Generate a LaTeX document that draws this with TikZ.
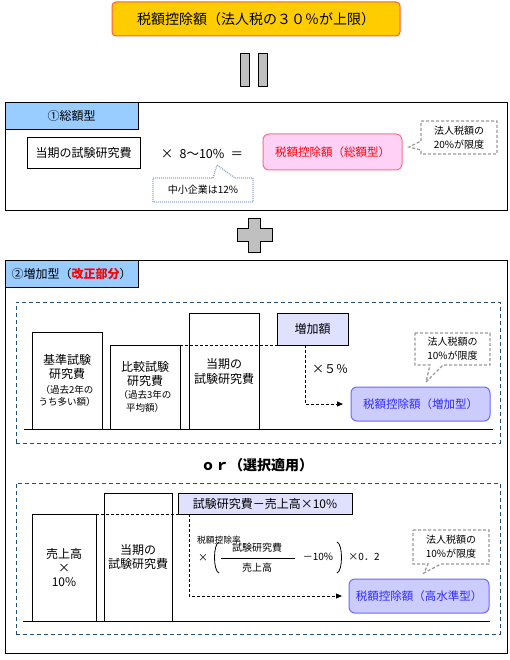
\documentclass[tikz,border=0pt]{standalone}
\usepackage{fontspec}
\setmainfont{Noto Sans CJK JP}
\usetikzlibrary{arrows.meta,calc}
\definecolor{gold}{HTML}{FFCC00}
\definecolor{goldline}{HTML}{FF5A3C}
\definecolor{hdrblue}{HTML}{99CCFF}
\definecolor{pinkfill}{HTML}{FFD1F6}
\definecolor{pinkline}{HTML}{FF6E82}
\definecolor{bluefill}{HTML}{CCCCFF}
\definecolor{blueline}{HTML}{6B6BFF}
\definecolor{bluetext}{HTML}{2B2BFF}
\definecolor{lavender}{HTML}{E0E0FF}
\definecolor{navy}{HTML}{1F4E79}
\definecolor{calloutgray}{HTML}{9A9A9A}
\definecolor{dotblue}{HTML}{8FAACB}
\definecolor{symgray}{HTML}{C0C0C0}
\newcommand{\smallfnt}{\fontsize{9.5}{12}\selectfont}
\begin{document}
\begin{tikzpicture}[x=1pt,y=-1pt,
  every node/.style={font=\fontsize{12}{14}\selectfont, inner sep=0pt, outer sep=0pt},
  box/.style={draw, line width=0.8pt, rectangle, align=center},
  sym/.style={fill=symgray, draw=black, line width=0.8pt},
  navybox/.style={draw=navy, dash pattern=on 4pt off 3pt, line width=0.9pt, rectangle},
  dline/.style={draw=black, dash pattern=on 3pt off 2pt, line width=0.8pt},
  gcall/.style={draw=calloutgray, dash pattern=on 3pt off 2pt, line width=1.3pt, fill=white},
  dcall/.style={draw=dotblue, dash pattern=on 1pt off 1pt, line width=1.3pt, fill=white},
  ctext/.style={align=center, font=\fontsize{10}{14}\selectfont},
  resbox/.style={box, draw=blueline, fill=bluefill, rounded corners=6pt, line width=1pt, text=bluetext, font=\fontsize{11.5}{14}\selectfont},
  tip/.style={-{Triangle[length=6pt,width=5pt]}}
]
\useasboundingbox (0,0) rectangle (510,660);
\fill[white] (0,0) rectangle (510,660);

% title
\node[box, draw=goldline, fill=gold, rounded corners=4pt, line width=1pt, minimum width=288pt, minimum height=34pt, font=\fontsize{14}{16}\selectfont] (title) at (256,19) {税額控除額（法人税の３０％が上限）};

% equals
\draw[sym] (240,53) rectangle (249,86);
\draw[sym] (258,53) rectangle (267,86);

% section 1
\node[box, minimum width=502pt, minimum height=108pt] (sec1) at (256,156) {};
\node[box, fill=hdrblue, minimum width=133pt, minimum height=27pt] (hdr1) at (71.5,115.5) {①総額型};
\node[box, minimum width=113pt, minimum height=31pt] (cur) at (83.5,152.5) {当期の試験研究費};
\node[font=\fontsize{12.5}{14}\selectfont] (mul) at (202,154) {×\enspace 8〜10\%\enspace ＝};
\node[box, draw=pinkline, fill=pinkfill, rounded corners=6pt, line width=1pt, minimum width=139pt, minimum height=36pt, text=red, font=\fontsize{11.5}{14}\selectfont] (r1) at (332.5,152) {税額控除額（総額型）};
\draw[gcall] (421,121) -- (497,121) -- (497,154) -- (421,154) -- (421,150) -- (409,147) -- (421,141) -- cycle;
\node[ctext] (c1) at (459,137.5) {法人税額の\\20\%が限度};
\draw[dcall] (153,178) -- (213,178) -- (217,165) -- (235,178) -- (253,178) -- (253,202) -- (153,202) -- cycle;
\node[ctext] (c2) at (203,190) {中小企業は12\%};

% plus
\draw[sym] (248,218) -- (260,218) -- (260,228) -- (272,228) -- (272,241) -- (260,241) -- (260,252) -- (248,252) -- (248,241) -- (237,241) -- (237,228) -- (248,228) -- cycle;

% section 2
\node[box, minimum width=502pt, minimum height=393pt] (sec2) at (256,456.5) {};
\node[box, fill=hdrblue, minimum width=133pt, minimum height=27pt] (hdr2) at (71.5,273.5) {②増加型（{\bfseries\color{red}改正部分}）};

% box 1 (increase type)
\node[navybox, minimum width=484pt, minimum height=141pt] (d1) at (258,372.5) {};
\coordinate (g1a) at (24,429);
\coordinate (g1b) at (493,429);
\draw[line width=0.8pt] (g1a) -- (g1b);
\node[box, minimum width=70pt, minimum height=97pt] (b1) at (67,380.5) {基準試験\\研究費\\[1pt]{\smallfnt （過去2年の}\\[-2pt]{\smallfnt うち多い額）}};
\node[box, minimum width=70pt, minimum height=84pt] (b2) at (145,387) {比較試験\\研究費\\[-1pt]{\smallfnt （過去3年の}\\[-1pt]{\smallfnt 平均額）}};
\node[box, minimum width=70pt, minimum height=116pt] (b3) at (224,371) {当期の\\[1pt]試験研究費};
\node[box, fill=lavender, minimum width=71pt, minimum height=32pt] (inc) at (312.5,329) {増加額};
\draw[dline] (b2.north east) -- (inc.south west);
\node[resbox, minimum width=139pt, minimum height=34pt] (r2) at (420.5,404) {税額控除額（増加型）};
\draw[dline, tip] ([xshift=-7.5pt]inc.south) |- ([xshift=-8pt]r2.west);
\node (x5) at (330,369) {×５％};
\draw[gcall] (415,333) -- (490,333) -- (490,365) -- (443,365) -- (426,382) -- (430,365) -- (415,365) -- cycle;
\node[ctext] (c3) at (452.5,349) {法人税額の\\10\%が限度};

% or
\node[font=\fontsize{14}{16}\selectfont\bfseries] (or) at (257,465) {ｏｒ（選択適用）};

% box 2 (high level type)
\node[navybox, minimum width=484pt, minimum height=151pt] (d2) at (258,558.5) {};
\coordinate (g2a) at (23,621);
\coordinate (g2b) at (490,621);
\draw[line width=0.8pt] (g2a) -- (g2b);
\node[box, minimum width=64pt, minimum height=107pt] (s1) at (64,567.5) {売上高\\×\\10\%};
\node[box, minimum width=68pt, minimum height=128pt] (s2) at (138,557) {当期の\\試験研究費};
\node[box, fill=lavender, minimum width=174pt, minimum height=21pt] (dif) at (265,503.5) {試験研究費－売上高×10\%};
\draw[dline] (s1.north east) -- (dif.south west);
\node[resbox, minimum width=140pt, minimum height=34pt] (r3) at (419,596) {税額控除額（高水準型）};
\draw[dline, tip] ([xshift=11pt]dif.south west) |- ([xshift=-7pt]r3.west);
\node[anchor=west, font=\fontsize{8.8}{10}\selectfont] (rate) at (197,540) {税額控除率};
\node[font=\fontsize{10}{12}\selectfont] (fx) at (203,558) {×};
\draw[line width=0.8pt] (219,542) .. controls (213,544) and (213,571) .. (219,573);
\draw[line width=0.8pt] (337,542) .. controls (343,544) and (343,571) .. (337,573);
\node[font=\fontsize{10}{12}\selectfont] (num) at (257,548) {試験研究費};
\node[font=\fontsize{10}{12}\selectfont] (den) at (257,568) {売上高};
\coordinate (fla) at (221,558);
\coordinate (flb) at (295,558);
\draw[line width=0.8pt] (fla) -- (flb);
\node[font=\fontsize{10}{12}\selectfont] (m10) at (318,557) {－10\%};
\node[font=\fontsize{10}{12}\selectfont] (x02) at (364,557) {×0．2};
\draw[gcall] (413,530) -- (489,530) -- (489,564) -- (441,564) -- (424,573) -- (428,564) -- (413,564) -- cycle;
\node[ctext] (c4) at (451,547) {法人税額の\\10\%が限度};
\end{tikzpicture}
\end{document}
